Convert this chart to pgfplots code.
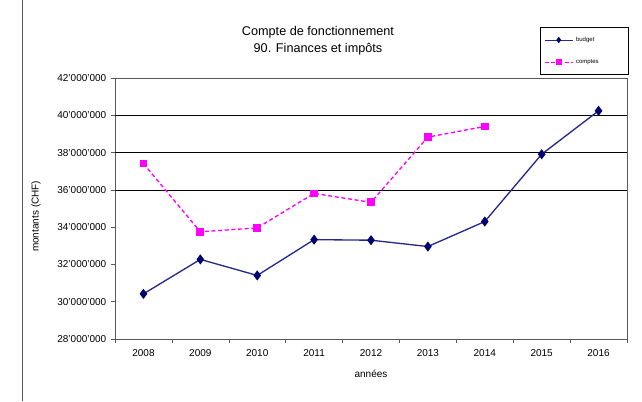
\documentclass[border=0pt]{standalone}
\usepackage{pgfplots}
\pgfplotsset{compat=1.18}
\usepackage{fontspec}
\setmainfont{Liberation Sans}
\usetikzlibrary{calc}
\definecolor{budgetcol}{RGB}{0,0,110}
\definecolor{budgetline}{RGB}{40,40,140}
\definecolor{comptescol}{RGB}{255,0,255}

\begin{document}
\begin{tikzpicture}
\begin{axis}[
    name=ax,
    scale only axis,
    width=384pt, height=195.75pt,
    xmin=-0.5, xmax=8.5,
    ymin=28, ymax=42,
    xtick={0,...,8},
    xticklabels={2008,2009,2010,2011,2012,2013,2014,2015,2016},
    major x tick style={draw=none},
    minor xtick={-0.5,0.5,...,8.5},
    minor tick length=3pt,
    ytick={28,30,...,42},
    yticklabels={28'000'000,30'000'000,32'000'000,34'000'000,36'000'000,38'000'000,40'000'000,42'000'000},
    major tick length=3pt,
    tick align=outside,
    tick pos=left,
    tick style={gray!70!black, thin},
    axis line style={gray!70!black, thin},
    ticklabel style={font=\fontsize{7.5}{9}\selectfont},
    xticklabel style={yshift=-1pt},
    extra y ticks={36,38,40},
    extra y tick labels={},
    extra y tick style={grid=major, major tick length=0pt, grid style={black, thin}},
    ylabel={montants (CHF)},
    ylabel style={font=\fontsize{7.5}{9}\selectfont, at={(axis description cs:-0.154,0.47)}, anchor=center},
    xlabel={années},
    xlabel style={font=\fontsize{7.5}{9}\selectfont, yshift=-4pt},
    legend style={
        at={(rel axis cs:1,1)}, anchor=south east, xshift=1pt, yshift=2.5pt,
        font=\fontsize{4.5}{5}\selectfont,
        draw=black, thin,
        inner xsep=3pt, inner ysep=5pt,
        row sep=8pt,
        legend cell align=left,
        text width=34pt,
    },
    legend image code/.code={
        \draw[#1, line width=0.6pt] (0cm,0cm) -- (0.75cm,0cm);
        \draw[#1, mark size=1.6pt, mark repeat=1] plot coordinates {(0.375cm,0cm)};
    },
]
\addplot[budgetline, line width=1pt, mark=diamond*, mark size=3pt, mark options={solid, fill=budgetcol, draw=budgetcol}] coordinates {
    (0,30.42) (1,32.27) (2,31.41) (3,33.33) (4,33.30) (5,32.96) (6,34.30) (7,37.91) (8,40.24)
};
\addlegendentry{budget}
\addplot[comptescol, line width=1pt, densely dashed, mark=square*, mark size=2.4pt, mark options={solid, fill=comptescol}] coordinates {
    (0,37.41) (1,33.75) (2,33.96) (3,35.81) (4,35.33) (5,38.83) (6,39.40)
};
\addlegendentry{comptes}
\end{axis}
\node[align=center, font=\fontsize{9.5}{13}\selectfont] at ($(ax.north west)+(152.25pt,27.75pt)$) {Compte de fonctionnement\\90. Finances et impôts};
\draw[gray!70!black, thin] ($(ax.south west)+(-69.75pt,-46.5pt)$) -- ($(ax.north west)+(-69.75pt,58.5pt)$);
\pgfresetboundingbox
\useasboundingbox ($(ax.south west)+(-86.25pt,-46.5pt)$) rectangle ($(ax.north east)+(11.25pt,58.5pt)$);
\end{tikzpicture}
\end{document}
